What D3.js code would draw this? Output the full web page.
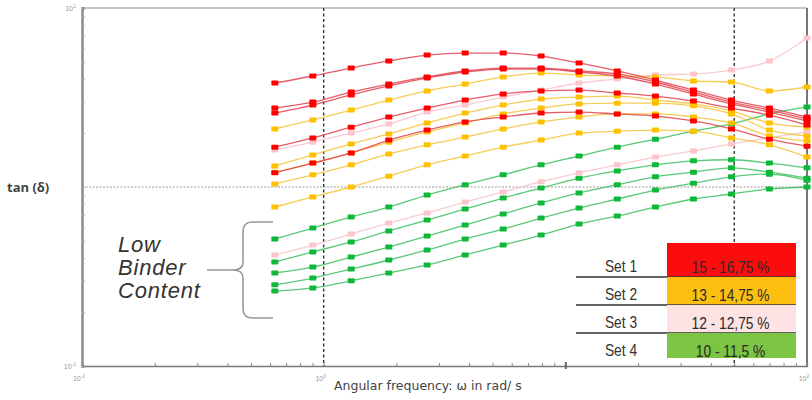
<!DOCTYPE html>
<html>
<head>
<meta charset="utf-8">
<script src="https://cdn.jsdelivr.net/npm/d3@7"></script>
<style>
  body { margin: 0; background: #fff; }
  svg { display: block; }
</style>
</head>
<body>
<div id="chart"></div>
<script>
// angular frequency of each measuring point (rad/s)
const omega = [0.628, 0.902, 1.3, 1.86, 2.68, 3.85, 5.53, 7.94, 11.4, 16.4, 23.6, 33.9, 48.7, 69.9, 100];

// tan(delta) per specimen
const set1 = [
  [3.81, 4.17, 4.62, 5.06, 5.46, 5.60, 5.60, 5.39, 4.93, 4.45, 3.96, 3.48, 3.06, 2.76, 2.46],
  [2.76, 2.98, 3.39, 3.76, 4.12, 4.45, 4.62, 4.62, 4.45, 4.28, 3.86, 3.39, 2.98, 2.69, 2.40],
  [2.59, 2.87, 3.27, 3.67, 4.07, 4.39, 4.56, 4.56, 4.39, 4.17, 3.76, 3.31, 2.91, 2.62, 2.34],
  [1.67, 1.88, 2.16, 2.46, 2.76, 3.06, 3.31, 3.44, 3.48, 3.35, 3.22, 3.02, 2.76, 2.52, 2.22],
  [1.20, 1.36, 1.55, 1.83, 2.08, 2.31, 2.46, 2.59, 2.62, 2.56, 2.49, 2.34, 2.11, 1.85, 1.69]
];
const set2 = [
  [2.11, 2.37, 2.69, 3.06, 3.44, 3.76, 4.12, 4.33, 4.22, 4.17, 4.12, 3.91, 3.86, 3.44, 3.62],
  [1.31, 1.51, 1.74, 1.98, 2.28, 2.59, 2.87, 3.10, 3.18, 3.22, 3.06, 2.91, 2.66, 2.28, 2.16],
  [1.21, 1.36, 1.55, 1.78, 2.03, 2.28, 2.56, 2.76, 2.91, 2.94, 2.94, 2.84, 2.56, 2.08, 1.93],
  [1.04, 1.17, 1.33, 1.53, 1.72, 1.90, 2.11, 2.31, 2.46, 2.56, 2.56, 2.46, 2.28, 1.93, 1.81],
  [0.773, 0.880, 1.00, 1.15, 1.33, 1.49, 1.67, 1.83, 2.00, 2.05, 2.08, 2.05, 1.88, 1.72, 1.47]
];
const set3 = [
  [1.61, 1.78, 2.00, 2.25, 2.62, 2.87, 3.18, 3.48, 3.81, 4.01, 4.22, 4.28, 4.50, 5.06, 6.80],
  [0.417, 0.474, 0.546, 0.629, 0.716, 0.824, 0.938, 1.07, 1.20, 1.33, 1.47, 1.59, 1.74, 1.88, 2.03]
];
const set4 = [
  [0.512, 0.590, 0.680, 0.773, 0.902, 1.03, 1.17, 1.33, 1.49, 1.67, 1.85, 2.05, 2.25, 2.56, 2.80],
  [0.381, 0.434, 0.493, 0.568, 0.654, 0.754, 0.868, 0.987, 1.12, 1.23, 1.33, 1.40, 1.42, 1.36, 1.28],
  [0.331, 0.357, 0.406, 0.462, 0.532, 0.613, 0.707, 0.814, 0.926, 1.03, 1.14, 1.21, 1.28, 1.21, 1.12],
  [0.284, 0.310, 0.348, 0.391, 0.445, 0.512, 0.582, 0.671, 0.763, 0.857, 0.962, 1.05, 1.14, 1.18, 1.09],
  [0.262, 0.273, 0.299, 0.331, 0.367, 0.417, 0.474, 0.539, 0.621, 0.689, 0.773, 0.857, 0.914, 0.975, 1.00]
];

const legendNames = ["Set 1", "Set 2", "Set 3", "Set 4"];
const legendRanges = ["15 - 16,75 %", "13 - 14,75 %", "12 - 12,75 %", "10 - 11,5 %"];
const markerColors = ["#ff0000", "#ffc000", "#fcc4cb", "#0fb83a"];
const lineColors = ["#e2404c", "#f4c43a", "#f7c3ca", "#3cc060"];
const boxColors = ["#fb0d0d", "#fdbf0f", "#fde3e3", "#7cc443"];

const guideOmega = [1, 50];   // dashed verticals
const xTickLabels = [[0.1, "-1"], [1, "0"], [100, "2"]];
const yTickLabels = [[0.1, "-1"], [10, "1"]];

const W = 812, H = 400;
const svg = d3.select("#chart").append("svg").attr("width", W).attr("height", H);

const x = d3.scaleLog().domain([0.1, 100]).range([82, 807]);
const y = d3.scaleLog().domain([0.1, 10]).range([366, 8]);

// frame
svg.append("line").attr("x1", 82).attr("x2", 807).attr("y1", 8).attr("y2", 8)
  .attr("stroke", "#b5b5b5").attr("stroke-width", 1.5);
svg.append("line").attr("x1", 807).attr("x2", 807).attr("y1", 8).attr("y2", 366)
  .attr("stroke", "#555").attr("stroke-width", 1.6);

// minor ticks
const xAx = svg.append("g").attr("transform", "translate(0,366)")
  .call(d3.axisBottom(x).tickValues(x.ticks()).tickSize(-3).tickFormat(""));
const yAx = svg.append("g").attr("transform", "translate(82,0)")
  .call(d3.axisLeft(y).tickValues(y.ticks()).tickSize(-3).tickFormat(""));
xAx.select(".domain").attr("stroke", "#777").attr("stroke-width", 1.3);
yAx.select(".domain").attr("stroke", "#8a8a8a").attr("stroke-width", 2.5);
xAx.selectAll(".tick line").attr("stroke", "#888");
yAx.selectAll(".tick line").attr("stroke", "#aaa");
xAx.selectAll(".tick").filter(d => d === 10).select("line").attr("y1", 3).attr("y2", -4).attr("stroke-width", 2).attr("stroke", "#666");

// tick labels 10^n
function powLabel(g, px, py, exp, anchor) {
  const t = g.append("text").attr("x", px).attr("y", py).attr("text-anchor", anchor)
    .attr("font-family", "Arial, 'Liberation Sans', sans-serif").attr("font-size", 7).attr("fill", "#999");
  t.append("tspan").text("10");
  t.append("tspan").attr("dy", -3).attr("font-size", 5).text(exp);
}
xTickLabels.forEach(([v, e]) => powLabel(svg, x(v) - 3, 381, e, "middle"));
yTickLabels.forEach(([v, e]) => powLabel(svg, 76, y(v) + 3, e, "end"));

// y = 1 reference line
svg.append("line").attr("x1", 82).attr("x2", 807).attr("y1", y(1)).attr("y2", y(1))
  .attr("stroke", "#999").attr("stroke-width", 1.2).attr("stroke-dasharray", "2,1.5");

// dashed verticals
svg.selectAll(".guide").data(guideOmega).enter().append("line")
  .attr("x1", d => x(d)).attr("x2", d => x(d)).attr("y1", 8).attr("y2", 366)
  .attr("stroke", "#333").attr("stroke-width", 1.4).attr("stroke-dasharray", "3,2.5");

// curves
const sets = [set1, set2, set3, set4];
const line = d3.line().x((d, i) => x(omega[i])).y(d => y(d)).curve(d3.curveMonotoneX);
const drawOrder = [3, 2, 1, 0];
drawOrder.forEach(s => {
  svg.append("g").selectAll("path").data(sets[s]).enter().append("path")
    .attr("d", line).attr("fill", "none")
    .attr("stroke", lineColors[s]).attr("stroke-width", 1.3).attr("stroke-opacity", 0.85);
});
drawOrder.forEach(s => {
  const g = svg.append("g");
  sets[s].forEach(curve => {
    g.selectAll(null).data(curve).enter().append("rect")
      .attr("x", (d, i) => x(omega[i]) - 3.5).attr("y", d => y(d) - 2.5)
      .attr("width", 7).attr("height", 5).attr("rx", 0.8)
      .attr("fill", markerColors[s]);
  });
});

// axis titles
svg.append("text").attr("x", 7).attr("y", 192)
  .attr("font-family", "'Open Sans', Arial, sans-serif").attr("font-size", 13)
  .attr("font-weight", 700).attr("fill", "#444").text("tan (δ)");
svg.append("text").attr("x", 334).attr("y", 390)
  .attr("font-family", "'DejaVu Sans', Verdana, sans-serif").attr("font-size", 12.5)
  .attr("fill", "#444").text("Angular frequency:  ω in rad/ s");

// low binder content note
const note = svg.append("text").attr("font-family", "Arial, 'Liberation Sans', sans-serif")
  .attr("font-size", 22).attr("font-style", "italic").attr("letter-spacing", 0.8).attr("fill", "#333");
["Low", "Binder", "Content"].forEach((w, i) => {
  note.append("tspan").attr("x", 118).attr("y", 252 + i * 23).text(w);
});
svg.append("path")
  .attr("d", "M273,222 L252,222 Q243,222 243,232 L243,262 Q243,270 233,270 Q243,270 243,278 L243,308 Q243,318 252,318 L273,318 M207,270 L233,270")
  .attr("fill", "none").attr("stroke", "#999").attr("stroke-width", 1.6);

// legend table
const lg = svg.append("g");
const rowH = 28, boxX = 667, boxW = 129, top0 = 249;
function narrowText(cx, cy, str, fill) {
  lg.append("text").attr("transform", `translate(${cx},${cy}) scale(0.86,1)`)
    .attr("text-anchor", "middle")
    .attr("font-family", "Arial, 'Liberation Sans', sans-serif")
    .attr("font-size", 16).attr("fill", fill).text(str);
}
legendNames.forEach((n, i) => {
  const rowTop = top0 + i * rowH;
  const by = i === 0 ? rowTop - 6 : rowTop;
  const bh = i === 0 ? rowH + 6 : (i === 3 ? 25 : rowH);
  lg.append("rect").attr("x", boxX).attr("y", by).attr("width", boxW).attr("height", bh)
    .attr("fill", boxColors[i]);
  narrowText(621, rowTop + 22.5, n, "#333");
  narrowText(boxX + boxW / 2 - 1, rowTop + 23.5, legendRanges[i], "#2a2a2a");
  if (i < 3) {
    lg.append("line").attr("x1", 576).attr("x2", boxX + boxW).attr("y1", rowTop + rowH)
      .attr("y2", rowTop + rowH).attr("stroke", "#333").attr("stroke-width", 1.6);
  }
});
</script>
</body>
</html>
